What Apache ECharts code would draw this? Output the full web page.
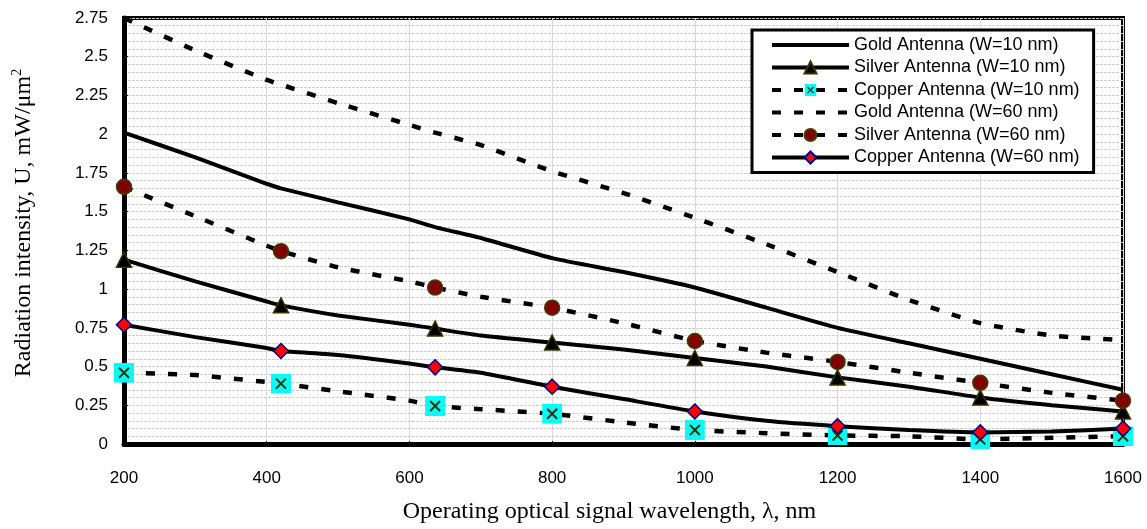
<!DOCTYPE html>
<html>
<head>
<meta charset="utf-8">
<script src="https://cdn.jsdelivr.net/npm/echarts@6/dist/echarts.min.js"></script>
<style>
  html, body { margin: 0; padding: 0; background: #fff; }
  #chart { width: 1147px; height: 529px; }
</style>
</head>
<body>
<div id="chart"></div>
<script>
// wavelengths (nm) where the curves are sampled
var wavelength = [200, 300, 400, 420, 500, 600, 636, 700, 800, 900, 1000, 1100, 1200, 1300, 1400, 1500, 1600];
// wavelengths that carry a marker
var markerWavelength = [200, 420, 636, 800, 1000, 1200, 1400, 1600];

// radiation intensity, mW/um^2
var gold10   = [2.01, 1.85, 1.68, 1.65, 1.56, 1.45, 1.40, 1.33, 1.20, 1.11, 1.01, 0.88, 0.75, 0.65, 0.55, 0.45, 0.35];
var silver10 = [1.19, 1.05, 0.92, 0.895, 0.83, 0.77, 0.745, 0.70, 0.655, 0.61, 0.555, 0.50, 0.43, 0.37, 0.30, 0.25, 0.21];
var copper10 = [0.46, 0.445, 0.40, 0.39, 0.34, 0.28, 0.245, 0.225, 0.195, 0.14, 0.09, 0.07, 0.055, 0.05, 0.03, 0.04, 0.05];
var gold60   = [2.75, 2.54, 2.35, 2.32, 2.20, 2.06, 2.01, 1.93, 1.76, 1.62, 1.46, 1.29, 1.11, 0.93, 0.78, 0.70, 0.67];
var silver60 = [1.66, 1.47, 1.28, 1.245, 1.14, 1.05, 1.01, 0.95, 0.88, 0.78, 0.665, 0.59, 0.53, 0.46, 0.395, 0.33, 0.28];
var copper60 = [0.77, 0.69, 0.62, 0.60, 0.575, 0.52, 0.495, 0.46, 0.37, 0.29, 0.21, 0.15, 0.115, 0.09, 0.075, 0.08, 0.10];

var seriesNames = [
  'Gold Antenna (W=10 nm)',
  'Silver Antenna (W=10 nm)',
  'Copper Antenna (W=10 nm)',
  'Gold Antenna (W=60 nm)',
  'Silver Antenna (W=60 nm)',
  'Copper Antenna (W=60 nm)'
];

var copperBox = 'image://data:image/svg+xml;utf8,' + encodeURIComponent(
  "<svg xmlns='http://www.w3.org/2000/svg' width='20' height='20'>" +
  "<rect width='20' height='20' fill='#00ffff'/>" +
  "<path d='M5 5L15 15M15 5L5 15' stroke='#333300' stroke-width='2'/></svg>");

var dash = [9, 13];

// pair up x/y, markers only where needed
function points(values, withMarker) {
  return wavelength.map(function (w, i) {
    var p = { value: [w, values[i]] };
    if (!withMarker || markerWavelength.indexOf(w) < 0) p.symbol = 'none';
    return p;
  });
}

function lineSeries(name, values, opts) {
  return {
    name: name,
    type: 'line',
    data: points(values, opts.symbol !== 'none'),
    symbol: opts.symbol,
    symbolSize: opts.size || 14,
    showAllSymbol: true,
    smooth: 0.15,
    lineStyle: { color: '#000', width: opts.dashed ? 4.5 : 4, type: opts.dashed ? dash : 'solid' },
    itemStyle: opts.item || { color: '#000' },
    z: opts.z || 2,
    animation: false
  };
}

var font = 'Liberation Sans, Arial, sans-serif';
var serif = 'Liberation Serif, Times New Roman, serif';

var myChart = echarts.init(document.getElementById('chart'));

var option = {
  backgroundColor: '#fff',
  grid: {
    left: 124, right: 24, top: 18, bottom: 84,
    show: true, borderColor: '#000', borderWidth: 4
  },
  legend: {
    orient: 'vertical',
    left: 752, top: 30,
    padding: [6, 14, 6, 18],
    itemWidth: 77, itemHeight: 15, itemGap: 4.5,
    backgroundColor: '#fff',
    borderColor: '#000', borderWidth: 3,
    lineStyle: { width: 4 },
    textStyle: { fontFamily: font, fontSize: 18, color: '#000' },
    data: seriesNames.map(function (n, i) {
      // gold curves have no marker
      return (i === 0 || i === 3) ? { name: n, itemStyle: { opacity: 0 } } : n;
    })
  },
  xAxis: {
    type: 'value',
    min: 200, max: 1600, interval: 200,
    name: 'Operating optical signal wavelength, λ, nm',
    nameLocation: 'middle', nameGap: 56,
    nameTextStyle: { fontFamily: serif, fontSize: 24, color: '#000', padding: [0, 28, 0, 0] },
    axisLine: { lineStyle: { color: '#000', width: 5 } },
    axisTick: { inside: true, length: 3, lineStyle: { color: '#000' } },
    axisLabel: {
      fontFamily: font, fontSize: 17, color: '#000', margin: 26,
      formatter: function (v) { return String(v); }
    },
    splitLine: { show: true, lineStyle: { color: '#d9d9d9', width: 1 } }
  },
  yAxis: {
    type: 'value',
    min: 0, max: 2.75, interval: 0.25,
    name: 'Radiation intensity, U, mW/μm{sup|2}',
    nameLocation: 'middle', nameGap: 86,
    nameTextStyle: {
      fontFamily: serif, fontSize: 24, color: '#000', padding: [0, 0, 0, 16],
      rich: { sup: { fontFamily: serif, fontSize: 14, color: '#000', padding: [0, 0, 14, 0] } }
    },
    axisLine: { lineStyle: { color: '#000', width: 5 } },
    axisTick: { inside: true, length: 4, lineStyle: { color: '#000' } },
    minorTick: { show: true, splitNumber: 5, length: 2, lineStyle: { color: '#000' } },
    axisLabel: { fontFamily: font, fontSize: 17, color: '#000', margin: 16 },
    splitLine: { show: true, lineStyle: { color: '#cfcfcf', width: 1, type: [3, 1] } },
    minorSplitLine: { show: true, lineStyle: { color: '#cfcfcf', width: 1, type: [3, 1] } }
  },
  series: [
    lineSeries(seriesNames[0], gold10, { symbol: 'none' }),
    lineSeries(seriesNames[1], silver10, {
      symbol: 'triangle', size: 15, z: 4,
      item: { color: '#000', borderColor: '#333300', borderWidth: 1.5 }
    }),
    lineSeries(seriesNames[2], copper10, { symbol: copperBox, size: 20, dashed: true, z: 3 }),
    lineSeries(seriesNames[3], gold60, { symbol: 'none', dashed: true }),
    lineSeries(seriesNames[4], silver60, {
      symbol: 'circle', size: 15, dashed: true, z: 4,
      item: { color: '#800000', borderColor: '#404000', borderWidth: 1.5 }
    }),
    lineSeries(seriesNames[5], copper60, {
      symbol: 'diamond', size: 15, z: 5,
      item: { color: '#ff0000', borderColor: '#000080', borderWidth: 1.5 }
    })
  ]
};

myChart.setOption(option);
</script>
</body>
</html>
